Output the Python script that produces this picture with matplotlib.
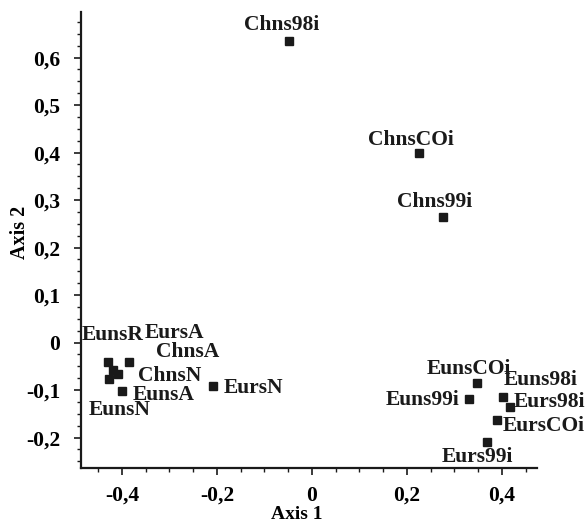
import matplotlib
matplotlib.use("Agg")
import matplotlib.pyplot as plt
from matplotlib.ticker import MultipleLocator, FuncFormatter

labels = ["Chns98i", "ChnsCOi", "Chns99i",
          "EunsCOi", "Euns99i", "Euns98i", "Eurs98i", "EursCOi", "Eurs99i",
          "EunsR", "EursA", "ChnsA", "ChnsN", "EunsN", "EunsA", "EursN"]
axis1 = [-0.048, 0.226, 0.276,
         0.348, 0.330, 0.403, 0.417, 0.390, 0.368,
         -0.429, -0.386, -0.418, -0.408, -0.427, -0.399, -0.209]
axis2 = [0.635, 0.399, 0.265,
         -0.084, -0.118, -0.115, -0.135, -0.163, -0.209,
         -0.041, -0.041, -0.057, -0.067, -0.077, -0.102, -0.091]

# label offsets in pixels (style only)
offsets = [(-8, 16), (-8, 13), (-9, 15),
           (-8, 14), (-46, -1), (37, 17), (39, 5), (46, -6), (-9, -15),
           (5, 27), (46, 29), (74, 18), (52, -2), (11, -31), (41, -4), (41, -2)]

plt.rcParams['font.family'] = ['Liberation Serif', 'DejaVu Serif']
plt.rcParams['font.weight'] = 'bold'
FS = 15.5

fig = plt.figure(figsize=(5.86, 5.24), dpi=100)
ax = fig.add_axes([81/586, 56/524, (536.7-81)/586, (468-12)/524])

ax.plot(axis1, axis2, linestyle='none', marker='s', markersize=5.8,
        color='#1a1a1a')
for lab, x, y, off in zip(labels, axis1, axis2, offsets):
    ax.annotate(lab, (x, y), xytext=off, textcoords='offset pixels',
                ha='center', va='center', fontsize=FS, fontweight='bold',
                color='#1a1a1a')

ax.set_xlim(-0.486, 0.473)
ax.set_ylim(-0.264, 0.696)

for s in ['top', 'right']:
    ax.spines[s].set_visible(False)
for s in ['left', 'bottom']:
    ax.spines[s].set_linewidth(1.6)
    ax.spines[s].set_color('#1a1a1a')

ax.xaxis.set_major_locator(MultipleLocator(0.2))
ax.xaxis.set_minor_locator(MultipleLocator(0.05))
ax.yaxis.set_major_locator(MultipleLocator(0.1))
ax.yaxis.set_minor_locator(MultipleLocator(0.025))

def fmt(v, pos):
    if abs(v) < 1e-9:
        return "0"
    return ("%.1f" % v).replace(".", ",")

ax.xaxis.set_major_formatter(FuncFormatter(fmt))
ax.yaxis.set_major_formatter(FuncFormatter(fmt))
ax.tick_params(which='major', direction='out', length=5, width=1.2,
               labelsize=FS, color='#1a1a1a')
ax.tick_params(which='minor', direction='out', length=3, width=1.0,
               color='#1a1a1a')
ax.tick_params(axis='y', which='major', pad=10)
ax.tick_params(axis='x', which='major', pad=8)

ax.set_xlabel("Axis 1", fontsize=14, fontweight='bold', va='top')
ax.xaxis.set_label_coords(0.474, -0.083)
ax.set_ylabel("Axis 2", fontsize=14.5, fontweight='bold')
ax.yaxis.set_label_coords(-0.112, 0.516)

fig.savefig("out.png", dpi=100)
